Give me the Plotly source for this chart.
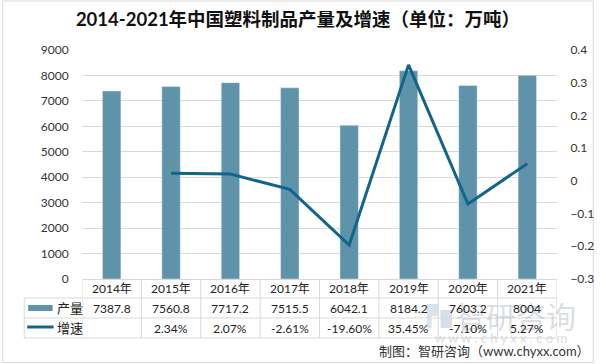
import plotly.graph_objects as go

categories = ["2014年", "2015年", "2016年", "2017年", "2018年", "2019年", "2020年", "2021年"]
output_vals = [7387.8, 7560.8, 7717.2, 7515.5, 6042.1, 8184.2, 7603.2, 8004]
output_labels = ["7387.8", "7560.8", "7717.2", "7515.5", "6042.1", "8184.2", "7603.2", "8004"]
growth_vals = [None, 0.0234, 0.0207, -0.0261, -0.196, 0.3545, -0.071, 0.0527]
growth_labels = ["", "2.34%", "2.07%", "-2.61%", "-19.60%", "35.45%", "-7.10%", "5.27%"]

W, H = 606, 364
L, R, T, B = 82, 39, 50, 85
PW = W - L - R
PH = H - T - B

def px(x):
    return (x - L) / PW

def py(y):
    return (H - B - y) / PH

BAR = "#5E93AA"
LINE = "#12658A"
GRID = "#D9D9D9"
FONT = "Lato, 'Noto Sans CJK SC', sans-serif"

fig = go.Figure()
fig.add_trace(go.Bar(x=categories, y=output_vals, name="产量", marker_color=BAR,
                     width=0.31, yaxis="y"))
fig.add_trace(go.Scatter(x=categories, y=growth_vals, name="增速", mode="lines",
                         line=dict(color=LINE, width=3), yaxis="y2", connectgaps=False))

shapes = []
ann = []

# watermark logo (light)
WM = "rgba(190,205,222,0.55)"
shapes.append(dict(type="rect", xref="paper", yref="paper", x0=px(434), x1=px(446),
                   y0=py(316), y1=py(304), fillcolor=WM, line=dict(width=0)))
shapes.append(dict(type="rect", xref="paper", yref="paper", x0=px(434), x1=px(439),
                   y0=py(328), y1=py(316), fillcolor=WM, line=dict(width=0)))
shapes.append(dict(type="rect", xref="paper", yref="paper", x0=px(448), x1=px(460),
                   y0=py(328), y1=py(310), fillcolor="rgba(170,185,205,0.45)", line=dict(width=0)))

# table lines
for yy in [298, 318, 338]:
    shapes.append(dict(type="line", xref="paper", yref="paper", x0=px(23), x1=px(567),
                       y0=py(yy), y1=py(yy), line=dict(color=GRID, width=1)))
for i in range(len(categories) + 1):
    shapes.append(dict(type="line", xref="x", yref="paper", x0=i - 0.5, x1=i - 0.5,
                       y0=py(280), y1=py(338), line=dict(color=GRID, width=1)))
shapes.append(dict(type="line", xref="paper", yref="paper", x0=px(23), x1=px(23),
                   y0=py(298), y1=py(338), line=dict(color=GRID, width=1)))
# legend keys
shapes.append(dict(type="rect", xref="paper", yref="paper", x0=px(27), x1=px(52),
                   y0=py(311), y1=py(305), fillcolor=BAR, line=dict(width=0)))
shapes.append(dict(type="line", xref="paper", yref="paper", x0=px(26), x1=px(53),
                   y0=py(327), y1=py(327), line=dict(color=LINE, width=3)))
# outer frame
shapes.append(dict(type="rect", xref="paper", yref="paper", x0=px(1), x1=px(604),
                   y0=py(362.5), y1=py(1), line=dict(color=GRID, width=1),
                   fillcolor="rgba(0,0,0,0)", layer="below"))

def A(x, xref, y, text, size, color="#222", xanchor="center", family=FONT):
    return dict(x=x, xref=xref, y=y, yref="paper", text=text, showarrow=False,
                xanchor=xanchor, yanchor="middle",
                font=dict(size=size, color=color, family=family))

# watermark text
ann.append(A(px(525), "paper", py(315), "智研咨询", 30, color="rgba(160,170,180,0.4)",
             family="'Noto Sans CJK SC'"))
ann.append(A(px(510), "paper", py(338), "w w w . c h y x x . c o m", 13,
             color="rgba(170,175,180,0.45)"))

for i, c in enumerate(categories):
    ann.append(A(c, "x", py(288.5), c, 12))
    ann.append(A(c, "x", py(308), output_labels[i], 12))
    ann.append(A(c, "x", py(328), growth_labels[i], 12))
ann.append(A(px(54), "paper", py(308), "产量", 13, xanchor="left"))
ann.append(A(px(54), "paper", py(328), "增速", 13, xanchor="left"))

ann.append(A(px(603), "paper", py(351), "制图：智研咨询（www.chyxx.com）", 13,
             color="#333", xanchor="right"))

fig.update_layout(
    width=W, height=H,
    margin=dict(l=L, r=R, t=T, b=B),
    paper_bgcolor="white", plot_bgcolor="white",
    showlegend=False,
    title=dict(text="<b>2014-2021年中国塑料制品产量及增速（单位：万吨）</b>", x=298 / W, xref="container",
               xanchor="center", y=1 - 20 / H, yanchor="middle",
               font=dict(size=18.5, color="#111", family=FONT)),
    xaxis=dict(type="category", range=[-0.5, 7.5], showticklabels=False, showgrid=False,
               showline=True, linecolor=GRID, linewidth=1, ticks=""),
    yaxis=dict(range=[0, 9000], dtick=1000, showgrid=True, gridcolor=GRID, gridwidth=1,
               zeroline=False, ticks="outside", ticklen=10, tickcolor="rgba(0,0,0,0)",
               tickfont=dict(size=12, color="#333", family=FONT)),
    yaxis2=dict(range=[-0.3, 0.4], dtick=0.1, overlaying="y", side="right", showgrid=False,
                zeroline=False, ticks="outside", ticklen=10, tickcolor="rgba(0,0,0,0)",
                tickfont=dict(size=12, color="#333", family=FONT)),
    annotations=ann,
    shapes=shapes,
)

fig.write_html("out.html", config={"displayModeBar": False}, post_script=(
    "document.body.style.margin='0';document.body.style.padding='0';"
    "document.body.style.overflow='hidden';document.documentElement.style.overflow='hidden';"
))
